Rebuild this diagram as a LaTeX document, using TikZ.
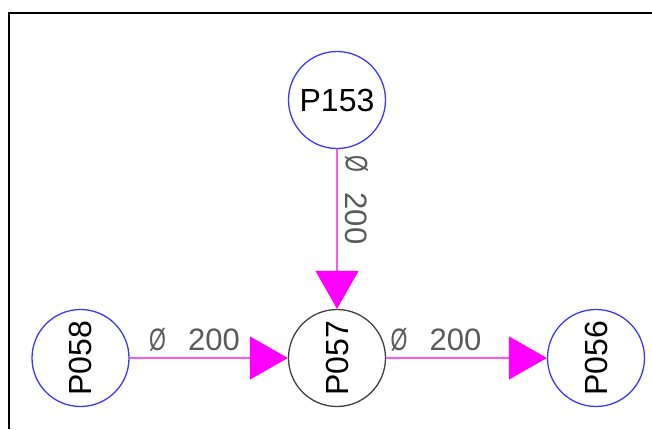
\documentclass[tikz,border=0pt]{standalone}
\usepackage{fontspec}
\setmainfont{Liberation Sans}
\usetikzlibrary{arrows.meta}
\definecolor{nodeblue}{HTML}{3A3AF5}
\definecolor{nodegray}{HTML}{404040}
\definecolor{pipe}{HTML}{FF00FF}
\definecolor{pipeline}{HTML}{FF55FF}
\definecolor{labgray}{HTML}{5A5A5A}
\newcommand{\dia}{\scalebox{0.7}[1]{Ø}}
\tikzset{
  manhole/.style={circle, draw=nodeblue, line width=1.3pt, minimum size=97pt, inner sep=0pt, font=\fontsize{32}{32}\selectfont, text=black},
  junction/.style={manhole, draw=nodegray},
  pipeline/.style={draw=pipeline, line width=1.2pt, -{Triangle[length=38pt,width=43pt,fill=pipe,color=pipe]}},
  pipelabel/.style={font=\fontsize{31}{31}\selectfont, text=labgray, inner sep=0pt},
  frameline/.style={line width=2pt, black}
}
\begin{document}
\begin{tikzpicture}[x=1pt, y=-1pt]
\useasboundingbox (0,0) rectangle (652,429);
\coordinate (fa) at (8.5,429);
\coordinate (fb) at (8.5,12.5);
\coordinate (fc) at (652,12.5);
\draw[frameline] (fa) -- (fb) -- (fc);
\node[manhole] (p153) at (337,100) {P153};
\node[junction] (p057) at (337,358) {\rotatebox{90}{P057}};
\node[manhole] (p058) at (80.5,358) {\rotatebox{90}{P058}};
\node[manhole] (p056) at (596,358) {\rotatebox{90}{P056}};
\draw[pipeline] (p153) -- (p057);
\draw[pipeline] (p058) -- (p057);
\draw[pipeline] (p057) -- (p056);
\node[pipelabel] (l1) at (194.5,340) {\dia\hspace{22pt}200};
\node[pipelabel] (l2) at (436,339.5) {\dia\hspace{22pt}200};
\node[pipelabel, rotate=-90] (l3) at (356.5,200) {\dia\hspace{20pt}200};
\end{tikzpicture}
\end{document}
